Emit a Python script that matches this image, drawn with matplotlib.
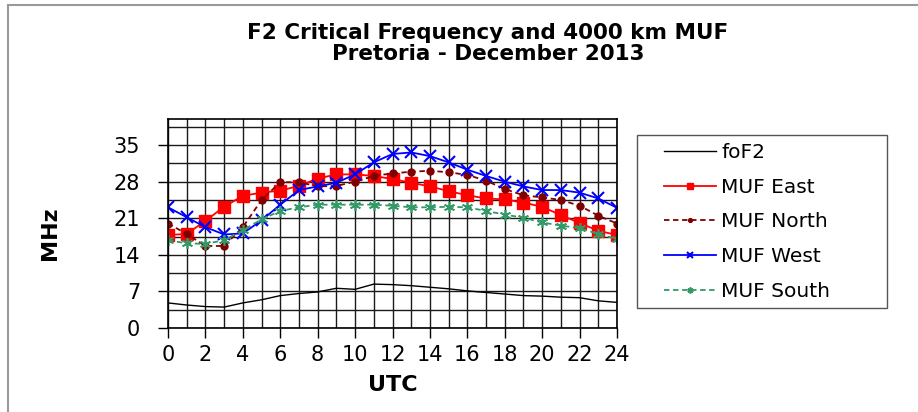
import matplotlib
matplotlib.use("Agg")
import matplotlib.pyplot as plt
from matplotlib.patches import Rectangle
from matplotlib.ticker import MultipleLocator

hours = list(range(25))
fof2 = [4.8, 4.4, 4.1, 4.0, 4.8, 5.4, 6.2, 6.6, 6.9, 7.6, 7.4, 8.4, 8.3,
        8.1, 7.8, 7.5, 7.1, 6.8, 6.5, 6.2, 6.1, 5.9, 5.8, 5.2, 4.9]
muf_east = [17.8, 18.0, 20.5, 23.2, 25.3, 25.9, 26.3, 27.2, 28.6, 29.4, 29.4, 29.1, 28.5,
            27.8, 27.1, 26.2, 25.4, 24.8, 24.6, 24.0, 23.2, 21.6, 20.1, 18.6, 17.8]
muf_north = [20.0, 18.0, 15.7, 15.7, 19.3, 24.5, 27.9, 27.9, 27.1, 27.2, 28.0, 29.1, 29.6,
             29.9, 30.1, 29.8, 29.3, 28.2, 26.6, 25.4, 25.0, 24.5, 23.4, 21.5, 20.0]
muf_west = [23.1, 21.2, 19.3, 17.9, 18.1, 20.6, 23.6, 26.4, 27.1, 27.8, 29.4, 31.7, 33.3,
            33.6, 32.9, 31.7, 30.3, 29.1, 28.0, 27.1, 26.4, 26.4, 25.9, 24.8, 23.0]
muf_south = [16.8, 16.2, 16.1, 16.8, 18.7, 20.8, 22.4, 23.1, 23.6, 23.6, 23.6, 23.6, 23.4,
             23.1, 23.1, 23.2, 23.1, 22.4, 21.7, 21.1, 20.2, 19.6, 19.1, 18.0, 17.0]
y_ticks = [0, 7, 14, 21, 28, 35]
x_ticks = list(range(0, 25, 2))

plt.rcParams['font.family'] = ['DejaVu Sans']

W, H = 918, 412
fig = plt.figure(figsize=(W / 100, H / 100), dpi=100)
fig.patch.set_facecolor('white')

ax = fig.add_axes([168 / W, 1 - 328 / H, (617 - 168) / W, (328 - 119) / H])

ax.plot(hours, fof2, color='black', lw=1.0, label='foF2')
ax.plot(hours, muf_east, color='#ff0000', lw=1.3, marker='s', ms=8, label='MUF East')
ax.plot(hours, muf_north, color='#800000', lw=1.3, ls=(0, (3, 2)), marker='o', ms=5,
        label='MUF North')
ax.plot(hours, muf_west, color='#0000ff', lw=1.3, marker='x', ms=8, mew=1.5, label='MUF West')
ax.plot(hours, muf_south, color='#339966', lw=1.3, ls=(0, (3, 2)), marker=(6, 2, 0), ms=8,
        mew=1.2, label='MUF South')

ax.set_xlim(0, 24)
ax.set_ylim(0, 40)
ax.set_xticks(x_ticks)
ax.set_xticklabels([str(t) for t in x_ticks])
ax.xaxis.set_minor_locator(MultipleLocator(1))
ax.set_yticks(y_ticks)
ax.set_yticklabels([str(t) for t in y_ticks])
ax.yaxis.set_minor_locator(MultipleLocator(3.5))
ax.grid(True, which='both', color='#1a1a1a', lw=1.0)
ax.set_axisbelow(True)
ax.tick_params(axis='both', which='major', direction='out', length=7, width=1,
               labelsize=15, pad=4)
ax.tick_params(axis='both', which='minor', length=0)
ax.tick_params(axis='x', which='major', pad=5)
ax.tick_params(axis='y', which='major', pad=13)
for s in ax.spines.values():
    s.set_color('black')
    s.set_linewidth(1.2)

ax.set_xlabel('UTC', fontsize=16, fontweight='bold')
ax.set_ylabel('MHz', fontsize=16, fontweight='bold')
ax.xaxis.set_label_coords(0.5, (328 - 385) / 209)
ax.xaxis.label.set_va('center')
ax.yaxis.set_label_coords((50 - 168) / 449, (328 - 233) / 209)
ax.yaxis.label.set_va('center')

fig.text(488 / W, 1 - 43.5 / H, 'F2 Critical Frequency and 4000 km MUF\nPretoria - December 2013',
         ha='center', va='center', fontsize=15.5, fontweight='bold',
         linespacing=1.12)

# legend frame drawn separately, entries placed inside it
frame = Rectangle((637 / W, 1 - 308 / H), (887 - 637) / W, (308 - 135) / H,
                  transform=fig.transFigure, fill=False, edgecolor='#555555', lw=1.0)
fig.patches.append(frame)
leg = ax.legend(loc='upper left', bbox_to_anchor=(664 / W, 1 - 143 / H),
                bbox_transform=fig.transFigure, fontsize=14.5, frameon=False,
                handlelength=2.6, markerscale=0.55,
                labelspacing=0.78, borderpad=0, handletextpad=0.25, borderaxespad=0)

rect = Rectangle((8 / W, -0.1), 2, (H - 5) / H + 0.1, transform=fig.transFigure,
                 fill=False, edgecolor='#999999', lw=1.5, clip_on=False)
fig.patches.append(rect)

fig.savefig('out.png', dpi=100, facecolor='white')
